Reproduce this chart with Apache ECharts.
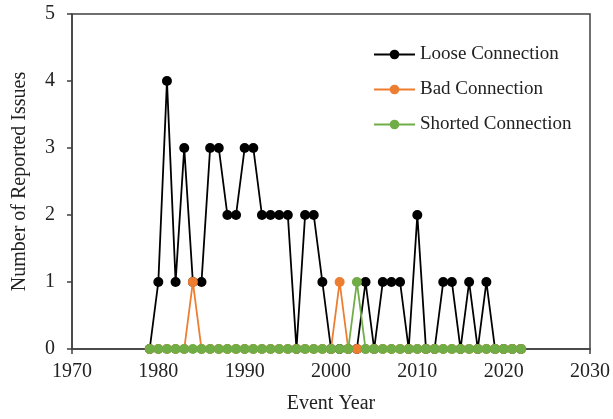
<!DOCTYPE html>
<html>
<head>
<meta charset="utf-8">
<script src="https://cdn.jsdelivr.net/npm/echarts@6/dist/echarts.min.js"></script>
<style>html,body{margin:0;padding:0;background:#fff;}#c{width:613px;height:419px;}</style>
</head>
<body>
<div id="c"></div>
<script>
var years = [1979,1980,1981,1982,1983,1984,1985,1986,1987,1988,1989,1990,1991,1992,1993,1994,1995,1996,1997,1998,1999,2000,2001,2002,2003,2004,2005,2006,2007,2008,2009,2010,2011,2012,2013,2014,2015,2016,2017,2018,2019,2020,2021,2022];
var loose   = [0,1,4,1,3,1,1,3,3,2,2,3,3,2,2,2,2,0,2,2,1,0,0,0,0,1,0,1,1,1,0,2,0,0,1,1,0,1,0,1,0,0,0,0];
var bad     = [0,0,0,0,0,1,0,0,0,0,0,0,0,0,0,0,0,0,0,0,0,0,1,0,0,0,0,0,0,0,0,0,0,0,0,0,0,0,0,0,0,0,0,0];
var shorted = [0,0,0,0,0,0,0,0,0,0,0,0,0,0,0,0,0,0,0,0,0,0,0,0,1,0,0,0,0,0,0,0,0,0,0,0,0,0,0,0,0,0,0,0];
var seriesNames = ['Loose Connection','Bad Connection','Shorted Connection'];
var colors = ['#000000','#ED7D31','#70AD47'];

function pairs(v){ return years.map(function(y,i){ return [y, v[i]]; }); }

var font = 'Liberation Serif, Times New Roman, serif';
var axisCol = '#404040';
var chart = echarts.init(document.getElementById('c'));
var allData = [loose, bad, shorted];
chart.setOption({
  animation: false,
  textStyle: {fontFamily: font},
  grid: {left: 72, right: 23, top: 14, bottom: 70, show: true, borderColor: axisCol, borderWidth: 1.5, containLabel: false},
  legend: {
    orient: 'vertical', left: 373, top: 45, padding: 0,
    itemWidth: 41, itemHeight: 12, itemGap: 16,
    textStyle: {fontFamily: font, fontSize: 19, color: '#222', lineHeight: 19},
    data: seriesNames
  },
  xAxis: {
    type: 'value', min: 1970, max: 2030, interval: 10,
    name: 'Event Year', nameLocation: 'middle', nameGap: 45,
    nameTextStyle: {fontFamily: font, fontSize: 20, color: '#222'},
    axisLine: {show: true, lineStyle: {color: axisCol, width: 1.5}},
    axisTick: {show: true, inside: false, length: 5, lineStyle: {color: axisCol, width: 1.5}},
    axisLabel: {fontFamily: font, fontSize: 20, color: '#222', margin: 13, formatter: function(v){ return String(v); }},
    splitLine: {show: false}
  },
  yAxis: {
    type: 'value', min: 0, max: 5, interval: 1,
    name: 'Number of Reported Issues', nameLocation: 'middle', nameGap: 42,
    nameTextStyle: {fontFamily: font, fontSize: 20, color: '#222'},
    axisLine: {show: true, lineStyle: {color: axisCol, width: 1.5}},
    axisTick: {show: true, inside: false, length: 5, lineStyle: {color: axisCol, width: 1.5}},
    axisLabel: {fontFamily: font, fontSize: 20, color: '#222', margin: 17},
    splitLine: {show: false}
  },
  series: seriesNames.map(function(n, i){
    return {
      name: n, type: 'line', data: pairs(allData[i]),
      symbol: 'circle', symbolSize: 10, showSymbol: true,
      itemStyle: {color: colors[i]},
      lineStyle: {color: colors[i], width: 1.8},
      z: 2 + i
    };
  })
});
</script>
</body>
</html>
